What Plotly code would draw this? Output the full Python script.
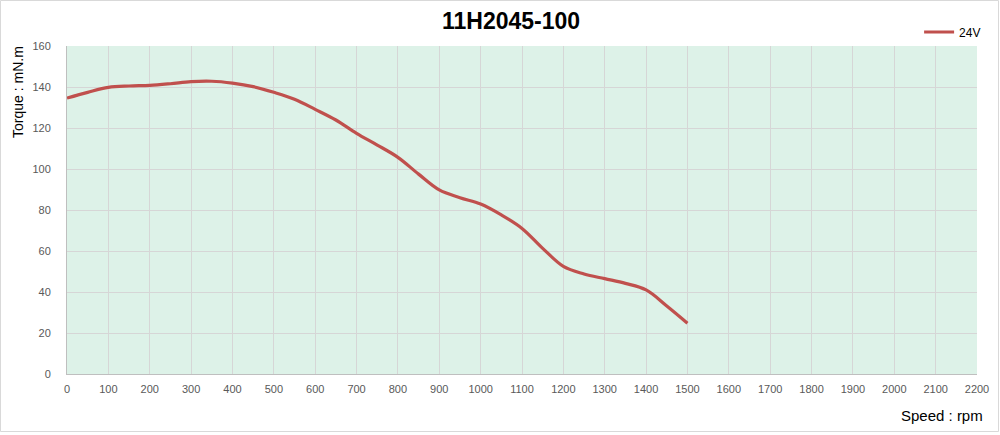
import plotly.graph_objects as go

speed = [0, 50, 100, 150, 200, 250, 300, 350, 400, 450, 500, 550, 600, 650, 700, 750,
         800, 850, 900, 950, 1000, 1050, 1100, 1150, 1200, 1250, 1300, 1350, 1400, 1450, 1500]
torque_24v = [134.6, 137.4, 139.8, 140.5, 140.8, 141.6, 142.6, 142.8, 141.9, 140.2, 137.4, 134.0,
              129.1, 123.9, 117.4, 111.7, 105.7, 97.5, 89.8, 86.0, 82.9, 77.6, 71.0, 61.3,
              52.5, 48.8, 46.5, 44.2, 41.0, 33.2, 24.8]
x_ticks = list(range(0, 2201, 100))
y_ticks = list(range(0, 161, 20))

W, H = 1000, 435
L, R, T, B = 67, 23, 46, 61
pw, ph = W - L - R, H - T - B

FONT = "Liberation Sans, Arial, sans-serif"

fig = go.Figure()
fig.add_trace(go.Scatter(x=speed, y=torque_24v, mode="lines", name="24V",
                         line=dict(color="#C0504D", width=3.2, shape="spline", smoothing=1.0)))

tickfont = dict(family=FONT, size=11, color="#595959")
fig.update_layout(
    width=W, height=H,
    margin=dict(l=L, r=R, t=T, b=B),
    paper_bgcolor="white",
    plot_bgcolor="#DDF2E8",
    showlegend=True,
    legend=dict(x=1.01, xanchor="right", y=1 + 14 / ph, yanchor="middle",
                font=dict(family=FONT, size=12, color="#000000"),
                bgcolor="rgba(0,0,0,0)", itemwidth=30),
    xaxis=dict(range=[0, 2200], tickvals=x_ticks, showgrid=True, gridcolor="#D6D6D6", gridwidth=1.3,
               showline=True, linecolor="#BFBFBF", linewidth=1, zeroline=False, ticks="",
               tickfont=tickfont, ticklabelstandoff=5, fixedrange=True),
    yaxis=dict(range=[0, 160], tickvals=y_ticks, showgrid=True, gridcolor="#D6D6D6", gridwidth=1.3,
               showline=True, linecolor="#BFBFBF", linewidth=1, zeroline=False, ticks="",
               tickfont=tickfont, ticklabelstandoff=13, fixedrange=True),
    annotations=[
        dict(text="<b>11H2045-100</b>", xref="paper", yref="paper",
             x=(511 - L) / pw, y=1 + (T - 21) / ph, xanchor="center", yanchor="middle",
             showarrow=False, font=dict(family=FONT, size=23, color="#000000")),
        dict(text="Torque : mN.m", xref="paper", yref="paper", textangle=-90,
             x=(18 - L) / pw, y=1 - (92 - T) / ph, xanchor="center", yanchor="middle",
             showarrow=False, font=dict(family=FONT, size=14, color="#000000")),
        dict(text="Speed : rpm", xref="paper", yref="paper",
             x=(985 - L) / pw, y=-(415 - T - ph) / ph, xanchor="right", yanchor="middle",
             showarrow=False, font=dict(family=FONT, size=15, color="#000000")),
    ],
    shapes=[dict(type="rect", xref="paper", yref="paper",
                 x0=(0.5 - L) / pw, x1=(W - 1.5 - L) / pw,
                 y0=-(H - 3.5 - T - ph) / ph, y1=1 + (T - 0.5) / ph,
                 line=dict(color="#D9D9D9", width=1), layer="below")],
)

fig.write_html("out.html", config={"displayModeBar": False},
               post_script="document.body.style.margin='0';document.body.style.padding='0';")
